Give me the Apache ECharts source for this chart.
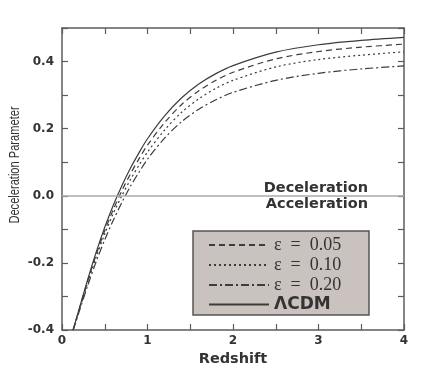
<!DOCTYPE html>
<html>
<head>
<meta charset="utf-8">
<script src="https://cdn.jsdelivr.net/npm/echarts@6/dist/echarts.min.js"></script>
<style>
  html, body { margin: 0; padding: 0; background: #fff; }
  #chart { width: 443px; height: 388px; }
</style>
</head>
<body>
<div id="chart"></div>
<script>
// redshift samples
const redshift = [0.13, 0.2, 0.3, 0.4, 0.5, 0.6, 0.7, 0.8, 0.9, 1.0, 1.2, 1.4, 1.6, 1.8, 2.0, 2.5, 3.0, 3.5, 4.0]

// deceleration parameter q(z)
const qEps005 = [-0.40, -0.34, -0.254, -0.175, -0.104, -0.041, 0.015, 0.065, 0.110, 0.151, 0.218, 0.272, 0.313, 0.344, 0.368, 0.408, 0.430, 0.443, 0.452]
const qEps010 = [-0.40, -0.342, -0.259, -0.182, -0.114, -0.053, 0.000, 0.048, 0.091, 0.130, 0.196, 0.249, 0.289, 0.320, 0.344, 0.384, 0.406, 0.419, 0.429]
const qEps020 = [-0.40, -0.346, -0.268, -0.196, -0.131, -0.073, -0.020, 0.028, 0.070, 0.109, 0.172, 0.221, 0.258, 0.286, 0.308, 0.344, 0.365, 0.378, 0.387]
const qLCDM   = [-0.40, -0.338, -0.25, -0.168, -0.094, -0.028, 0.030, 0.082, 0.128, 0.170, 0.238, 0.292, 0.333, 0.364, 0.388, 0.428, 0.450, 0.463, 0.472]

const seriesNames = ['ε = 0.05', 'ε = 0.10', 'ε = 0.20', 'ΛCDM']
const yLabelTicks = [-0.4, -0.2, 0.0, 0.2, 0.4]

const ink = '#3c3c3c'
const axisColor = '#5a5c62'

const chart = echarts.init(document.getElementById('chart'))

const pairs = ys => redshift.map((z, i) => [z, ys[i]])

const lineSeries = (name, ys, type) => ({
  name,
  type: 'line',
  data: pairs(ys),
  smooth: 0.3,
  showSymbol: false,
  symbol: 'none',
  lineStyle: { color: ink, width: 1.2, type },
  itemStyle: { color: ink },
  silent: true
})

const xAxisBase = {
  type: 'value',
  min: 0,
  max: 4,
  interval: 0.5,
  axisLine: { show: true, onZero: false, lineStyle: { color: axisColor, width: 1.5 } },
  axisTick: { show: true, inside: true, length: 6, lineStyle: { color: axisColor, width: 1.2 } },
  splitLine: { show: false }
}

const yAxisBase = {
  type: 'value',
  min: -0.4,
  max: 0.5,
  interval: 0.1,
  axisLine: { show: true, onZero: false, lineStyle: { color: axisColor, width: 1.5 } },
  axisTick: { show: true, inside: true, length: 6, lineStyle: { color: axisColor, width: 1.2 } },
  splitLine: { show: false }
}

const tickFont = { color: '#333', fontSize: 12, fontWeight: 'bold', fontFamily: 'DejaVu Sans' }

const options = {
  animation: false,
  backgroundColor: '#fff',
  grid: { left: 62, right: 39, top: 28, bottom: 58 },
  xAxis: [
    {
      ...xAxisBase,
      position: 'bottom',
      name: 'Redshift',
      nameLocation: 'middle',
      nameGap: 20,
      nameTextStyle: { color: '#333', fontSize: 14.5, fontWeight: 'bold', fontFamily: 'DejaVu Sans' },
      axisLabel: {
        ...tickFont,
        margin: 5,
        formatter: v => (Math.abs(v - Math.round(v)) < 1e-6 ? String(Math.round(v)) : '')
      }
    },
    { ...xAxisBase, position: 'top', axisLabel: { show: false } }
  ],
  yAxis: [
    {
      ...yAxisBase,
      position: 'left',
      axisLabel: {
        ...tickFont,
        margin: 8,
        formatter: v => {
          const hit = yLabelTicks.find(t => Math.abs(t - v) < 1e-6)
          return hit === undefined ? '' : hit.toFixed(1)
        }
      }
    },
    { ...yAxisBase, position: 'right', axisLabel: { show: false } }
  ],
  legend: {
    orient: 'vertical',
    left: 193,
    top: 232,
    padding: [4, 10, 6, 15],
    itemWidth: 60,
    itemHeight: 14,
    itemGap: 2,
    data: seriesNames,
    selectedMode: false,
    itemStyle: { opacity: 0, borderWidth: 0 },
    textStyle: {
      color: '#333',
      rich: {
        e: { fontFamily: 'Liberation Serif', fontSize: 18, color: '#333' },
        b: { fontFamily: 'DejaVu Sans', fontWeight: 'bold', fontSize: 17, color: '#333' }
      }
    },
    formatter: name => (name === 'ΛCDM' ? '{b|' + name + '}' : '{e|' + name.replace(' = ', '\u2002=\u2002') + '}')
  },
  graphic: [
    {
      type: 'rect',
      z: 0,
      shape: { x: 193, y: 231, width: 176, height: 84 },
      style: { fill: '#c9c2bf', stroke: '#555', lineWidth: 1.5 }
    },
    {
      type: 'text',
      x: 15,
      y: 165,
      rotation: Math.PI / 2,
      scaleX: 0.74,
      style: {
        text: 'Deceleration Parameter',
        textAlign: 'center',
        textVerticalAlign: 'middle',
        font: '15px "Liberation Sans", sans-serif',
        fill: '#333'
      }
    },
    {
      type: 'text',
      x: 368,
      y: 188,
      style: {
        text: 'Deceleration',
        textAlign: 'right',
        textVerticalAlign: 'middle',
        font: 'bold 14.5px "DejaVu Sans"',
        fill: '#333'
      }
    },
    {
      type: 'text',
      x: 368,
      y: 204,
      style: {
        text: 'Acceleration',
        textAlign: 'right',
        textVerticalAlign: 'middle',
        font: 'bold 14.5px "DejaVu Sans"',
        fill: '#333'
      }
    }
  ],
  series: [
    lineSeries(seriesNames[0], qEps005, [6, 4]),
    lineSeries(seriesNames[1], qEps010, [2, 3]),
    lineSeries(seriesNames[2], qEps020, [8, 3, 2, 3]),
    {
      ...lineSeries(seriesNames[3], qLCDM, 'solid'),
      markLine: {
        silent: true,
        symbol: 'none',
        label: { show: false },
        lineStyle: { color: '#aaa', width: 1.5, type: 'solid' },
        data: [{ yAxis: 0 }]
      }
    }
  ]
}

chart.setOption(options)
</script>
</body>
</html>
